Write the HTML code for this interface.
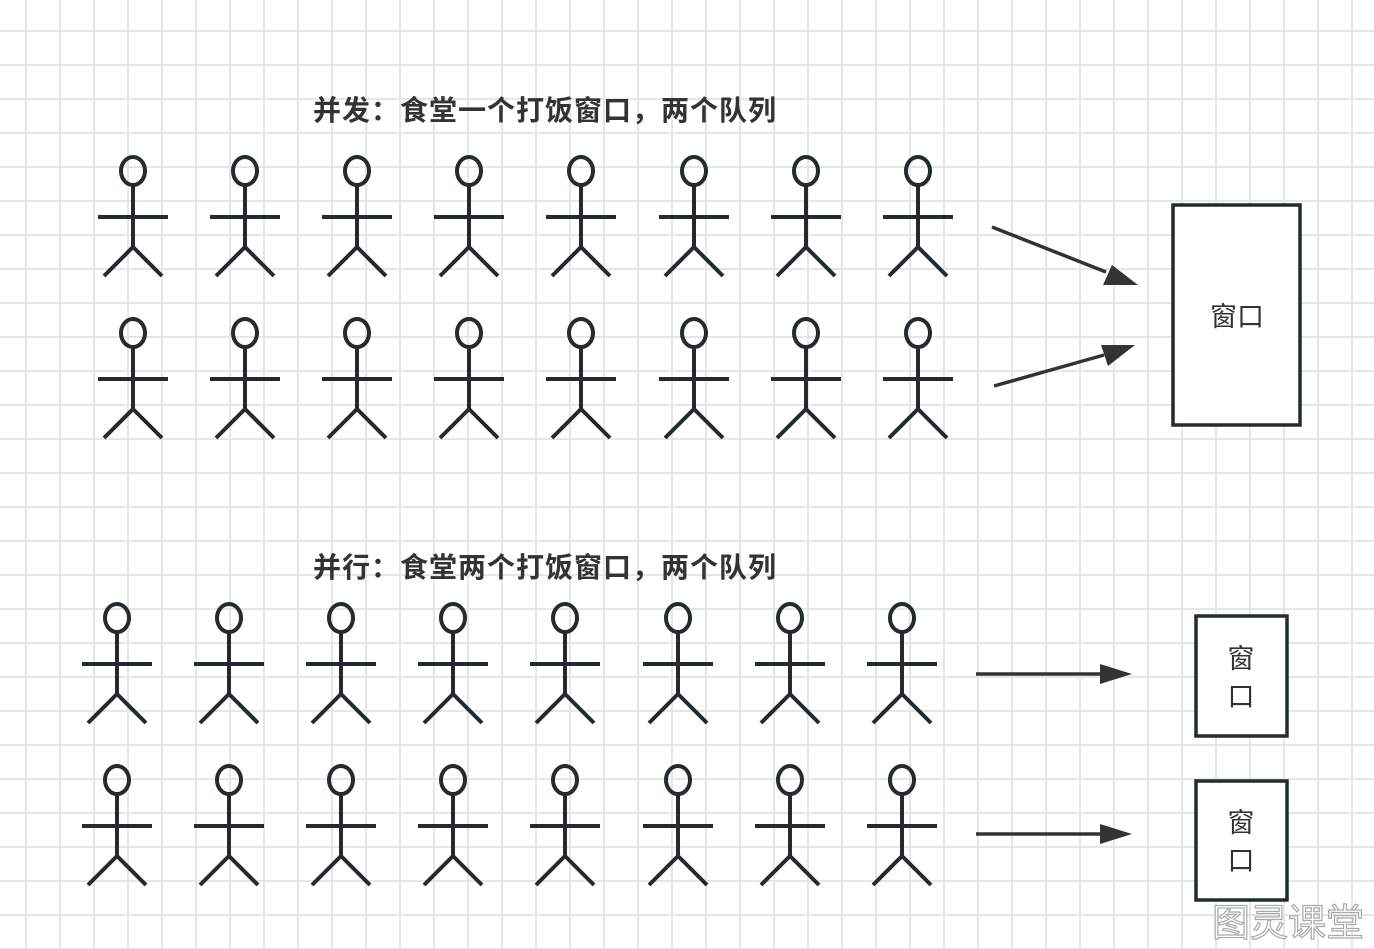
<!DOCTYPE html>
<html><head><meta charset="utf-8"><style>
body{margin:0;width:1374px;height:949px;overflow:hidden;background:#fff;
background-image:linear-gradient(#e6e6e6 2px,transparent 2px),linear-gradient(90deg,#e6e6e6 2px,transparent 2px);
background-size:34px 34px;background-position:25px 30px;}
svg{position:absolute;left:0;top:0}
text{font-family:"Liberation Sans","Noto Sans CJK SC",sans-serif}
</style></head><body>
<svg width="1374" height="949" xmlns="http://www.w3.org/2000/svg">
<defs>
<g id="p" fill="none" stroke="#232a31" stroke-width="4">
<ellipse cx="0" cy="0" rx="12" ry="14"/>
<line x1="0" y1="14" x2="0" y2="76"/>
<line x1="-35" y1="46" x2="35" y2="46"/>
<line x1="0" y1="76" x2="-29" y2="105"/>
<line x1="0" y1="76" x2="29" y2="105"/>
</g>
</defs>
<text x="313" y="120" font-size="28" font-weight="bold" fill="#333" letter-spacing="1">并发：食堂一个打饭窗口，两个队列</text>
<text x="313" y="577" font-size="28" font-weight="bold" fill="#333" letter-spacing="1">并行：食堂两个打饭窗口，两个队列</text>
<g>
<use href="#p" x="133" y="171"/><use href="#p" x="245" y="171"/><use href="#p" x="357" y="171"/><use href="#p" x="469" y="171"/><use href="#p" x="581" y="171"/><use href="#p" x="694" y="171"/><use href="#p" x="806" y="171"/><use href="#p" x="918" y="171"/>
<use href="#p" x="133" y="333"/><use href="#p" x="245" y="333"/><use href="#p" x="357" y="333"/><use href="#p" x="469" y="333"/><use href="#p" x="581" y="333"/><use href="#p" x="694" y="333"/><use href="#p" x="806" y="333"/><use href="#p" x="918" y="333"/>
<use href="#p" x="117" y="618"/><use href="#p" x="229" y="618"/><use href="#p" x="341" y="618"/><use href="#p" x="453" y="618"/><use href="#p" x="565" y="618"/><use href="#p" x="678" y="618"/><use href="#p" x="790" y="618"/><use href="#p" x="902" y="618"/>
<use href="#p" x="117" y="780"/><use href="#p" x="229" y="780"/><use href="#p" x="341" y="780"/><use href="#p" x="453" y="780"/><use href="#p" x="565" y="780"/><use href="#p" x="678" y="780"/><use href="#p" x="790" y="780"/><use href="#p" x="902" y="780"/>
</g>
<g stroke="#333" stroke-width="3.5" fill="none">
<line x1="992" y1="227" x2="1106" y2="272"/>
<line x1="994" y1="386" x2="1104" y2="355"/>
<line x1="976" y1="674" x2="1102" y2="674"/>
<line x1="976" y1="834" x2="1102" y2="834"/>
</g>
<g fill="#333">
<path d="M1138,285 L1103,285 L1112,265 z"/>
<path d="M1135,345 L1108,366 L1101,345 z"/>
<path d="M1132,674 L1100,664 L1100,684 z"/>
<path d="M1132,834 L1100,824 L1100,844 z"/>
</g>
<g fill="#fff" stroke="#232a31" stroke-width="3.5">
<rect x="1173" y="205" width="127" height="220"/>
<rect x="1196" y="616" width="91" height="120"/>
<rect x="1196" y="781" width="91" height="119"/>
</g>
<g fill="#333" font-size="27" text-anchor="middle">
<text x="1237" y="326">窗口</text>
<text x="1241" y="668">窗</text><text x="1241" y="706">口</text>
<text x="1241" y="832">窗</text><text x="1241" y="870">口</text>
</g>
<text x="1288" y="936" font-size="38" fill="#fff" stroke="#aaa" stroke-width="1.2" text-anchor="middle">图灵课堂</text>
</svg>
</body></html>
